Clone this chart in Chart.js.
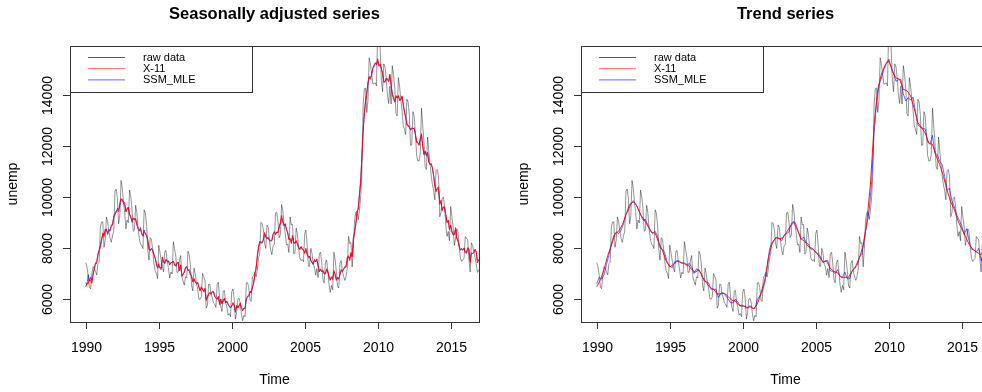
<!DOCTYPE html>
<html>
<head>
<meta charset="utf-8">
<script src="https://cdn.jsdelivr.net/npm/chart.js@4.4.1/dist/chart.umd.min.js"></script>
<style>
  html, body { margin: 0; padding: 0; background: #fff; }
  body { width: 982px; height: 392px; overflow: hidden; position: relative; }
  .panel { position: absolute; top: 0; width: 491px; height: 392px; }
  #p1 { left: 0; }
  #p2 { left: 511px; }
</style>
</head>
<body>
<div class="panel" id="p1"><canvas id="saChart" width="491" height="392"></canvas></div>
<div class="panel" id="p2"><canvas id="trendChart" width="491" height="392"></canvas></div>
<script>
// monthly series start in Jan 1990
const startYear = 1990;

// raw (not seasonally adjusted) unemployment, thousands, monthly
const rawData = [
  7430, 7250, 6930, 6460, 6400, 6990, 7270, 7190, 7070, 6940, 7380, 7430, // 1990
  8820, 9010, 9020, 8020, 8300, 9210, 9020, 8670, 8370, 8220, 8480, 8650, // 1991
  10210, 10300, 9930, 8940, 9260, 10640, 10340, 9790, 9390, 8740, 9090, 8980, // 1992
  10260, 10010, 9510, 8650, 8690, 9670, 9380, 8760, 8370, 8140, 8110, 7970, // 1993
  9490, 9360, 8890, 7910, 7520, 8400, 8340, 7930, 7420, 7100, 7010, 6800, // 1994
  8110, 7830, 7510, 7260, 7060, 7870, 7900, 7480, 7180, 6820, 7050, 6980, // 1995
  8240, 7970, 7680, 7040, 7050, 7520, 7700, 6880, 6700, 6540, 6870, 6820, // 1996
  7870, 7740, 7350, 6530, 6320, 7210, 6990, 6610, 6390, 6000, 5990, 6090, // 1997
  7000, 6870, 6740, 5640, 5740, 6580, 6570, 6180, 6050, 5840, 5800, 5670, // 1998
  6570, 6660, 6070, 5700, 5510, 6310, 6330, 5840, 5680, 5370, 5430, 5310, // 1999
  6280, 6390, 6020, 5210, 5470, 5990, 6030, 5850, 5400, 5150, 5360, 5300, // 2000
  6630, 6640, 6450, 5960, 5910, 6870, 6910, 7040, 6860, 7150, 7600, 7760, // 2001
  9000, 8950, 8720, 8170, 7980, 8900, 8810, 8300, 7920, 7730, 8090, 8120, // 2002
  9370, 9390, 9020, 8400, 8510, 9700, 9460, 8900, 8560, 8120, 8150, 7820, // 2003
  9210, 8900, 8920, 7760, 7800, 8780, 8540, 7990, 7610, 7500, 7540, 7460, // 2004
  8560, 8700, 8120, 7290, 7270, 7980, 7780, 7350, 7250, 6930, 7190, 6840, // 2005
  7770, 7830, 7430, 6760, 6630, 7420, 7530, 7090, 6570, 6260, 6530, 6360, // 2006
  7830, 7550, 7070, 6510, 6430, 7400, 7510, 7070, 6880, 6730, 6880, 7190, // 2007
  8450, 8170, 8210, 7260, 7980, 9090, 9380, 9440, 9110, 9470, 10010, 10900, // 2008
  13600, 14230, 14250, 13300, 13780, 15440, 15190, 14810, 14410, 14430, 14460, 14340, // 2009
  16630, 16210, 15810, 14560, 14110, 15200, 15090, 14650, 14000, 13650, 14330, 13630, // 2010
  15130, 14790, 14290, 13260, 13160, 14660, 14310, 13820, 13390, 12780, 12640, 12440, // 2011
  13820, 13710, 13220, 12010, 12030, 13330, 13160, 12470, 11630, 11400, 11400, 11680, // 2012
  13470, 12790, 12160, 11170, 11070, 12340, 11790, 11280, 10820, 10470, 10250, 9880, // 2013
  11020, 11070, 10800, 9220, 9370, 9930, 9990, 9600, 8890, 8450, 8640, 8280, // 2014
  9620, 9210, 8840, 8100, 8350, 8750, 8630, 8040, 7610, 7470, 7530, 7600, // 2015
  8440, 8370, 8330, 7530, 7060, 8200, 8090, 7830, 7630, 7370, 7040, 7150  // 2016
];

// X-11 seasonally adjusted, monthly
const x11Sa = [
  6480, 6620, 6600, 6790, 6700, 6620, 6930, 7200, 7370, 7460, 7760, 7900,
  8020, 8270, 8590, 8440, 8740, 8690, 8590, 8670, 8720, 8840, 8930, 9200,
  9280, 9450, 9460, 9420, 9740, 9930, 9850, 9790, 9780, 9400, 9560, 9560,
  9330, 9180, 9060, 9110, 9150, 9120, 8930, 8760, 8710, 8750, 8540, 8480,
  8630, 8580, 8470, 8330, 7920, 7930, 7950, 7930, 7730, 7630, 7380, 7230,
  7380, 7190, 7150, 7650, 7430, 7430, 7530, 7480, 7480, 7330, 7430, 7420,
  7490, 7310, 7320, 7420, 7420, 7100, 7340, 6880, 6980, 7030, 7240, 7250,
  7160, 7100, 7000, 6870, 6660, 6800, 6660, 6610, 6660, 6450, 6310, 6480,
  6370, 6310, 6420, 5940, 6050, 6210, 6260, 6180, 6300, 6280, 6100, 6030,
  5980, 6110, 5780, 6000, 5800, 5950, 6030, 5840, 5920, 5780, 5720, 5650,
  5710, 5860, 5730, 5480, 5760, 5650, 5750, 5850, 5630, 5530, 5640, 5630,
  6020, 6090, 6140, 6270, 6230, 6480, 6580, 7040, 7140, 7690, 8000, 8260,
  8180, 8220, 8300, 8600, 8400, 8390, 8390, 8300, 8250, 8310, 8520, 8640,
  8520, 8620, 8590, 8840, 8960, 9270, 9010, 8900, 8920, 8730, 8580, 8320,
  8370, 8170, 8490, 8170, 8210, 8290, 8140, 7990, 7930, 8060, 7930, 7930,
  7780, 7980, 7740, 7670, 7650, 7520, 7410, 7350, 7550, 7450, 7570, 7280,
  7060, 7180, 7070, 7120, 6980, 7000, 7180, 7090, 6850, 6730, 6870, 6760,
  7120, 6930, 6730, 6850, 6770, 6980, 7150, 7070, 7170, 7240, 7240, 7650,
  7690, 7500, 7820, 7640, 8400, 8580, 8940, 9440, 9490, 10070, 10540, 11600,
  12600, 13300, 13700, 14000, 14500, 14710, 14600, 14810, 15010, 15150, 15220, 15200,
  15400, 15110, 15200, 15000, 14850, 14470, 14510, 14650, 14580, 14520, 14800, 14350,
  14010, 13820, 13740, 13960, 13860, 13960, 13760, 13820, 13950, 13590, 13300, 13090,
  12800, 12810, 12710, 12650, 12660, 12690, 12660, 12470, 12120, 12120, 12010, 12300,
  12470, 11950, 11690, 11760, 11650, 11750, 11340, 11280, 11270, 11140, 10790, 10400,
  10200, 10350, 10380, 9700, 9860, 9460, 9610, 9600, 9260, 8990, 9090, 8720,
  8900, 8610, 8500, 8530, 8790, 8340, 8300, 8040, 7930, 7950, 7920, 8000,
  7810, 7820, 8010, 7930, 7430, 7810, 7780, 7830, 7950, 7840, 7410, 7530
];

// SSM_MLE seasonally adjusted, monthly
const ssmSa = [
  6650, 6560, 6950, 6700, 6850, 6720, 6980, 7150, 7420, 7380, 7700, 7950,
  8100, 8350, 8500, 8520, 8650, 8750, 8520, 8720, 8650, 8900, 8880, 9250,
  9350, 9380, 9550, 9480, 9650, 9850, 9900, 9720, 9700, 9450, 9500, 9600,
  9280, 9250, 9000, 9180, 9100, 9150, 8880, 8800, 8650, 8800, 8580, 8450,
  8700, 8520, 8500, 8250, 8000, 7880, 7990, 7880, 7780, 7580, 7420, 7200,
  7300, 7250, 7200, 7550, 7480, 7380, 7560, 7450, 7500, 7380, 7400, 7450,
  7450, 7380, 7280, 7380, 7450, 7150, 7280, 6950, 6950, 7080, 7200, 7280,
  7100, 7150, 6950, 6900, 6700, 6750, 6700, 6580, 6620, 6500, 6350, 6420,
  6400, 6280, 6380, 6000, 6080, 6180, 6230, 6220, 6250, 6300, 6120, 6050,
  6000, 6050, 5850, 5950, 5850, 5900, 6000, 5880, 5880, 5820, 5700, 5680,
  5750, 5800, 5750, 5550, 5700, 5700, 5720, 5800, 5680, 5580, 5620, 5680,
  5950, 6120, 6100, 6300, 6280, 6420, 6650, 6950, 7250, 7600, 8050, 8200,
  8250, 8180, 8350, 8550, 8450, 8350, 8420, 8280, 8300, 8280, 8560, 8600,
  8580, 8580, 8650, 8780, 9000, 9150, 9050, 8850, 8950, 8700, 8620, 8350,
  8320, 8250, 8420, 8220, 8180, 8250, 8180, 8020, 7960, 8020, 7980, 7900,
  7850, 7900, 7780, 7620, 7680, 7500, 7450, 7380, 7500, 7480, 7520, 7320,
  7120, 7120, 7100, 7080, 7020, 6980, 7150, 7050, 6900, 6780, 6850, 6800,
  7050, 6980, 6800, 6820, 6800, 6950, 7100, 7100, 7150, 7280, 7300, 7550,
  7650, 7580, 7750, 7700, 8300, 8650, 8900, 9350, 9600, 10100, 10700, 11500,
  12500, 13200, 13800, 14100, 14400, 14650, 14700, 14750, 15050, 15100, 15250, 15150,
  15300, 15150, 15100, 15050, 14800, 14550, 14480, 14600, 14620, 14500, 14700, 14400,
  14050, 13900, 13700, 13900, 13900, 13920, 13800, 13780, 13900, 13650, 13350, 13150,
  12850, 12750, 12750, 12600, 12700, 12650, 12700, 12400, 12200, 12100, 12050, 12250,
  12400, 12050, 11650, 11800, 11600, 11700, 11400, 11250, 11300, 11100, 10850, 10450,
  10250, 10300, 10300, 9800, 9800, 9500, 9580, 9550, 9300, 9000, 9050, 8750,
  8850, 8650, 8550, 8500, 8700, 8400, 8250, 8100, 7900, 7980, 7900, 7980,
  7850, 7780, 7950, 7950, 7500, 7750, 7800, 7800, 7900, 7850, 7500, 7550
];

// X-11 trend, quarterly
const x11Trend = [
  6480, 6750, 7150, 7700,
  8100, 8550, 8650, 8900,
  9300, 9700, 9800, 9650,
  9300, 9100, 8850, 8600,
  8580, 8200, 7900, 7500,
  7250, 7350, 7480, 7430,
  7380, 7350, 7150, 7050,
  7150, 6850, 6650, 6450,
  6380, 6200, 6200, 6220,
  6100, 5950, 5920, 5750,
  5750, 5650, 5700, 5620,
  5800, 6250, 6700, 7600,
  8150, 8400, 8350, 8400,
  8600, 8850, 9000, 8700,
  8350, 8250, 8050, 7980,
  7850, 7650, 7450, 7480,
  7200, 7080, 7020, 6850,
  6850, 6850, 7080, 7300,
  7620, 8100, 9000, 10500,
  12800, 14200, 14800, 15150,
  15380, 14900, 14650, 14600,
  14200, 14150, 13950, 13450,
  12900, 12700, 12500, 12100,
  12050, 11600, 11250, 10800,
  10250, 9800, 9500, 9050,
  8750, 8450, 8150, 7950,
  7850, 7750, 7780, 7650
];

// SSM_MLE trend, every two months
const ssmTrend = [
  6600, 6850, 6780, 6950, 7350, 7720,
  8150, 8480, 8620, 8560, 8700, 8950,
  9300, 9480, 9700, 9850, 9720, 9520,
  9300, 9080, 9120, 8900, 8700, 8560,
  8650, 8450, 8000, 7950, 7780, 7420,
  7300, 7220, 7450, 7500, 7480, 7400,
  7420, 7300, 7400, 7250, 7000, 7180,
  7120, 6980, 6720, 6680, 6620, 6380,
  6380, 6380, 6050, 6230, 6250, 6120,
  6000, 5850, 5850, 6000, 5880, 5720,
  5720, 5720, 5650, 5740, 5650, 5620,
  5980, 6120, 6280, 6600, 7150, 7950,
  8200, 8320, 8420, 8380, 8280, 8500,
  8560, 8620, 8950, 9050, 8900, 8580,
  8330, 8430, 8220, 8150, 7950, 7950,
  7820, 7780, 7650, 7420, 7500, 7500,
  7100, 7080, 7000, 7150, 6880, 6850,
  7050, 6780, 6800, 7120, 7180, 7320,
  7650, 7750, 8350, 8900, 9500, 10600,
  12500, 13700, 14350, 14650, 14980, 15200,
  15300, 15100, 14820, 14520, 14580, 14600,
  14030, 13750, 13880, 13780, 13900, 13330,
  12820, 12720, 12680, 12650, 12150, 12050,
  12400, 11700, 11650, 11380, 11250, 10800,
  10250, 10330, 9830, 9600, 9280, 9080,
  8880, 8520, 8750, 8300, 7950, 7920,
  7830, 7980, 7500, 7780, 7920, 7450
];

const xTicks = [1990, 1995, 2000, 2005, 2010, 2015];
const yTicks = [6000, 8000, 10000, 12000, 14000];
const legendLabels = ["raw data", "X-11", "SSM_MLE"];

const rawColor = "rgba(0, 0, 0, 0.42)";
const x11Color = "rgba(255, 0, 0, 0.9)";
const ssmColor = "rgba(0, 0, 255, 0.6)";
const legendColors = ["rgba(0, 0, 0, 0.65)", "rgba(255, 0, 0, 0.6)", "rgba(0, 0, 255, 0.6)"];
const fontFamily = "'Liberation Sans', Arial, sans-serif";

// turn a regular series into {x, y} points (like an R ts)
function toPoints(values, perYear) {
  return values.map((v, i) => ({ x: startYear + i / perYear, y: v }));
}

// R-style frame: box, axes, titles and legend
const rFrame = {
  id: "rFrame",
  afterDatasetsDraw(chart, args, opts) {
    const { ctx, chartArea: a } = chart;
    const xs = chart.scales.x;
    const ys = chart.scales.y;
    ctx.save();
    ctx.strokeStyle = "#333";
    ctx.fillStyle = "#000";
    ctx.lineWidth = 1;

    ctx.strokeRect(a.left + 0.5, a.top + 0.5, a.right - a.left, a.bottom - a.top);

    // x axis
    ctx.font = "14px " + fontFamily;
    ctx.textAlign = "center";
    ctx.textBaseline = "alphabetic";
    xTicks.forEach((t) => {
      const px = Math.round(xs.getPixelForValue(t)) + 0.5;
      ctx.beginPath();
      ctx.moveTo(px, a.bottom);
      ctx.lineTo(px, a.bottom + 7);
      ctx.stroke();
      ctx.fillText(String(t), px, a.bottom + 30);
    });

    // y axis, labels turned like R's las = 0
    yTicks.forEach((t) => {
      const py = Math.round(ys.getPixelForValue(t)) + 0.5;
      ctx.beginPath();
      ctx.moveTo(a.left, py);
      ctx.lineTo(a.left - 7, py);
      ctx.stroke();
      ctx.save();
      ctx.translate(a.left - 18, py);
      ctx.rotate(-Math.PI / 2);
      ctx.fillText(String(t), 0, 0);
      ctx.restore();
    });

    const midX = (a.left + a.right) / 2;
    const midY = (a.top + a.bottom) / 2;
    ctx.fillText("Time", midX, 384);
    ctx.save();
    ctx.translate(17, midY);
    ctx.rotate(-Math.PI / 2);
    ctx.fillText("unemp", 0, 0);
    ctx.restore();

    ctx.font = "bold 16.5px " + fontFamily;
    ctx.fillText(opts.title, midX, 18.5);

    // legend
    ctx.fillStyle = "#fff";
    ctx.fillRect(a.left + 1, a.top + 1, 181, 45);
    ctx.strokeRect(a.left + 0.5, a.top + 0.5, 182, 46);
    ctx.font = "11px " + fontFamily;
    ctx.textAlign = "left";
    ctx.textBaseline = "middle";
    legendLabels.forEach((lab, i) => {
      const ly = a.top + 11.5 + i * 11.2;
      ctx.strokeStyle = legendColors[i];
      ctx.beginPath();
      ctx.moveTo(a.left + 18, ly);
      ctx.lineTo(a.left + 55, ly);
      ctx.stroke();
      ctx.fillStyle = "#000";
      ctx.fillText(lab, a.left + 73, ly + 0.5);
    });
    ctx.restore();
  },
};

function makeChart(id, title, x11Series, ssmSeries) {
  const ctx = document.getElementById(id);
  const config = {
    type: "line",
    data: {
      datasets: [
        { label: "X-11", data: x11Series, borderColor: x11Color, order: 0 },
        { label: "SSM_MLE", data: ssmSeries, borderColor: ssmColor, order: 1 },
        { label: "raw data", data: toPoints(rawData, 12), borderColor: rawColor, order: 2 },
      ],
    },
    options: {
      responsive: false,
      animation: false,
      devicePixelRatio: 1,
      layout: { padding: { left: 70, right: 12, top: 46, bottom: 70 } },
      elements: {
        line: { borderWidth: 1, tension: 0, fill: false },
        point: { radius: 0 },
      },
      scales: {
        x: { type: "linear", display: false, min: 1988.92, max: 2016.94 },
        y: { type: "linear", display: false, min: 5100, max: 15900 },
      },
      plugins: {
        legend: { display: false },
        tooltip: { enabled: false },
        rFrame: { title: title },
      },
    },
    plugins: [rFrame],
  };
  return new Chart(ctx, config);
}

makeChart("saChart", "Seasonally adjusted series", toPoints(x11Sa, 12), toPoints(ssmSa, 12));
makeChart("trendChart", "Trend series", toPoints(x11Trend, 4), toPoints(ssmTrend, 6));
</script>
</body>
</html>
